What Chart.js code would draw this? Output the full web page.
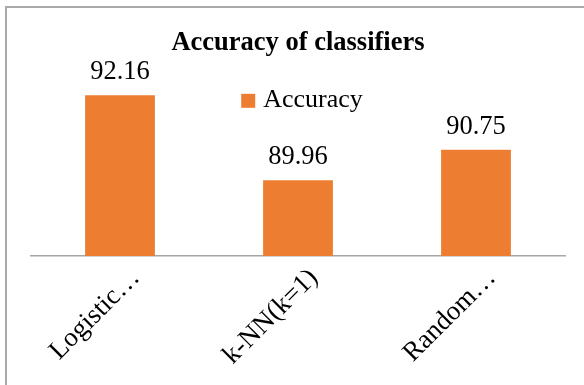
<!DOCTYPE html>
<html>
<head>
<meta charset="utf-8">
<script src="https://cdn.jsdelivr.net/npm/chart.js@4"></script>
<style>
  html, body { margin: 0; padding: 0; background: #fff; }
  #box { position: relative; width: 584px; height: 385px; overflow: hidden; }
  #frame { position: absolute; left: 5px; top: 6px; width: 700px; height: 500px;
           border-left: 2px solid #a9a9a9; border-top: 2px solid #a9a9a9; }
  canvas { position: absolute; left: 0; top: 0; }
</style>
</head>
<body>
<div id="box">
  <div id="frame"></div>
  <canvas id="chart" width="584" height="385"></canvas>
</div>
<script>
var classifiers = ['Logistic…', 'k-NN(k=1)', 'Random…'];
var accuracy = [92.16, 89.96, 90.75];
var seriesName = 'Accuracy';
var axisMin = 88;
var axisMax = 93;

var serif = "'Liberation Serif', 'Times New Roman', serif";
var barColor = '#ed7d31';

Chart.defaults.font.family = serif;
Chart.defaults.color = '#000';

// value printed above each bar
var barValues = {
  id: 'barValues',
  afterDatasetsDraw: function(chart) {
    var ctx = chart.ctx;
    var ds = chart.data.datasets[0];
    ctx.save();
    ctx.font = '26.5px ' + serif;
    ctx.fillStyle = '#000';
    ctx.textAlign = 'center';
    ctx.textBaseline = 'alphabetic';
    chart.getDatasetMeta(0).data.forEach(function(bar, i) {
      ctx.fillText(ds.data[i].toFixed(2), bar.x, bar.y - 16);
    });
    ctx.restore();
  }
};

// legend drawn inside the plot area, near the top, centred
var innerLegend = {
  id: 'innerLegend',
  afterDraw: function(chart) {
    var ctx = chart.ctx;
    var area = chart.chartArea;
    var ds = chart.data.datasets[0];
    var sq = 14, gap = 8;
    ctx.save();
    ctx.font = '26px ' + serif;
    var w = sq + gap + ctx.measureText(ds.label).width;
    var x = (area.left + area.right) / 2 - w / 2 + 4;
    var top = area.top + 31;
    ctx.fillStyle = ds.backgroundColor;
    ctx.fillRect(x, top, sq, sq);
    ctx.fillStyle = '#000';
    ctx.textBaseline = 'alphabetic';
    ctx.fillText(ds.label, x + sq + gap, top + 13);
    ctx.restore();
  }
};

new Chart('chart', {
  type: 'bar',
  data: {
    labels: classifiers,
    datasets: [{
      label: seriesName,
      data: accuracy,
      backgroundColor: barColor,
      barPercentage: 0.392,
      categoryPercentage: 1
    }]
  },
  options: {
    responsive: false,
    animation: false,
    layout: { padding: { left: 31, right: 19, top: 27, bottom: 0 } },
    plugins: {
      legend: { display: false },
      tooltip: { enabled: false },
      title: {
        display: true,
        text: 'Accuracy of classifiers',
        fullSize: false,
        color: '#000',
        font: { size: 26.5, weight: 'bold' },
        padding: { top: 0, bottom: 4 }
      }
    },
    scales: {
      y: { display: false, min: axisMin, max: axisMax },
      x: {
        grid: { display: false },
        border: { color: '#a6a6a6', width: 1.5 },
        ticks: {
          autoSkip: false,
          minRotation: 45,
          maxRotation: 45,
          padding: -14,
          color: '#000',
          font: { size: 27, lineHeight: 0.83 },
          // blank first line pushes the slanted label down-right of the tick
          callback: function(v, i) { return ['', classifiers[i]]; }
        },
        afterFit: function(scale) {
          scale.height = 129;
          scale.paddingLeft = 0;
          scale.paddingRight = 0;
        }
      }
    }
  },
  plugins: [barValues, innerLegend]
});
</script>
</body>
</html>
